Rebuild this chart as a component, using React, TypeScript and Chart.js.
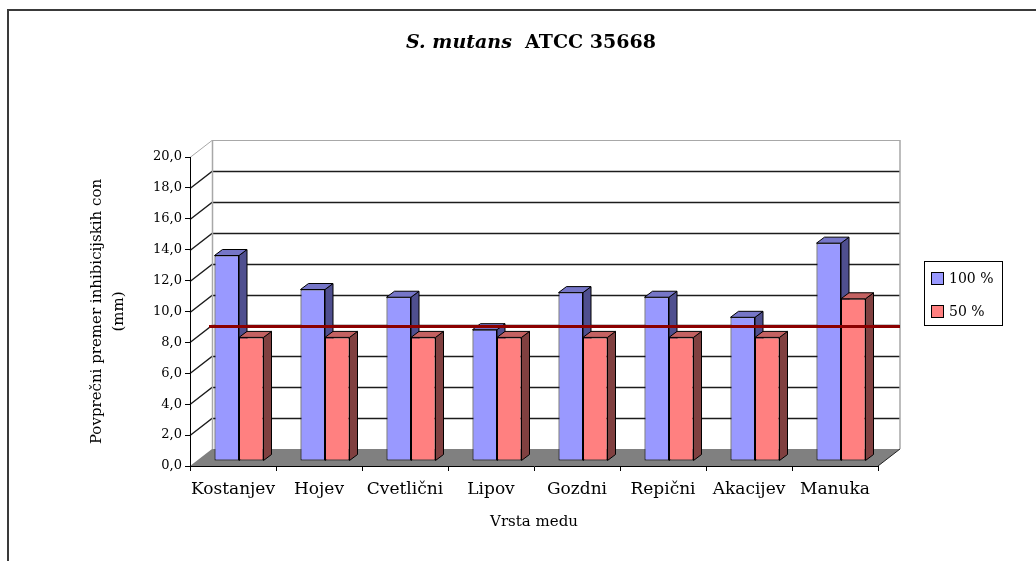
import React, { useEffect, useRef } from 'react';
import { Chart, registerables } from 'chart.js';

Chart.register(...registerables);

// Honey types and mean inhibition-zone diameters (mm)
const categories = ['Kostanjev', 'Hojev', 'Cvetlični', 'Lipov', 'Gozdni', 'Repični', 'Akacijev', 'Manuka'];
const seriesNames = ['100 %', '50 %'];
const conc100 = [13.3, 11.1, 10.6, 8.5, 10.9, 10.6, 9.3, 14.1];
const conc50 = [8.0, 8.0, 8.0, 8.0, 8.0, 8.0, 8.0, 10.5];
const referenceLevel = 8.7;

const yMin = 0;
const yMax = 20;
const yStep = 2;

const titleItalic = 'S. mutans';
const titleRest = 'ATCC 35668';
const xTitle = 'Vrsta medu';
const yTitle = ['Povprečni premer inhibicijskih con', '(mm)'];

const FONT = "'DejaVu Serif', 'Liberation Serif', serif";

const palette = [
  { front: '#9999FF', side: '#4F4F8F', top: '#7676C8' },
  { front: '#FF8080', side: '#804040', top: '#C46262' },
];

// depth of the walls/floor and of each column
const WALL_DX = 22;
const WALL_DY = -17;
const BAR_DX = 6;
const BAR_DY = -5;
const COL_DX = 8;
const COL_DY = -6;

function drawColumnFaces(ctx: CanvasRenderingContext2D, el: any, colors: { side: string; top: string }) {
  const { x, y, base, width } = el.getProps(['x', 'y', 'base', 'width'], true);
  const l = x - width / 2;
  const r = x + width / 2;
  // side face
  ctx.fillStyle = colors.side;
  ctx.beginPath();
  ctx.moveTo(r, y);
  ctx.lineTo(r + COL_DX, y + COL_DY);
  ctx.lineTo(r + COL_DX, base + COL_DY);
  ctx.lineTo(r, base);
  ctx.closePath();
  ctx.fill();
  ctx.stroke();
  // top face
  ctx.fillStyle = colors.top;
  ctx.beginPath();
  ctx.moveTo(l, y);
  ctx.lineTo(l + COL_DX, y + COL_DY);
  ctx.lineTo(r + COL_DX, y + COL_DY);
  ctx.lineTo(r, y);
  ctx.closePath();
  ctx.fill();
  ctx.stroke();
}

const depthPlugin = {
  id: 'depth3d',
  beforeDraw(chart: any) {
    const { ctx, chartArea: a, scales } = chart;
    const y = scales.y;
    ctx.save();
    // back wall and side wall gridlines
    for (const t of y.ticks) {
      if (t.value === yMin) continue;
      const py = Math.round(y.getPixelForValue(t.value)) + 0.5;
      const top = t.value === yMax;
      ctx.strokeStyle = top ? '#a8a8a8' : '#1c1c1c';
      ctx.lineWidth = top ? 1 : 1.4;
      ctx.beginPath();
      ctx.moveTo(a.left, py);
      ctx.lineTo(a.left + WALL_DX, py + WALL_DY);
      ctx.lineTo(a.right + WALL_DX, py + WALL_DY);
      ctx.stroke();
    }
    ctx.strokeStyle = '#a8a8a8';
    ctx.lineWidth = 1.5;
    ctx.beginPath();
    ctx.moveTo(a.left + WALL_DX + 0.5, a.top + WALL_DY);
    ctx.lineTo(a.left + WALL_DX + 0.5, a.bottom + WALL_DY);
    ctx.moveTo(a.right + WALL_DX, a.top + WALL_DY);
    ctx.lineTo(a.right + WALL_DX, a.bottom + WALL_DY);
    ctx.stroke();
    // floor
    ctx.fillStyle = '#808080';
    ctx.beginPath();
    ctx.moveTo(a.left, a.bottom);
    ctx.lineTo(a.right, a.bottom);
    ctx.lineTo(a.right + WALL_DX, a.bottom + WALL_DY);
    ctx.lineTo(a.left + WALL_DX, a.bottom + WALL_DY);
    ctx.closePath();
    ctx.fill();
    ctx.strokeStyle = '#222';
    ctx.lineWidth = 1;
    ctx.beginPath();
    ctx.moveTo(a.right, a.bottom);
    ctx.lineTo(a.right + WALL_DX, a.bottom + WALL_DY);
    ctx.stroke();
    ctx.restore();
  },
  beforeDatasetsDraw(chart: any) {
    const { ctx } = chart;
    ctx.save();
    ctx.translate(BAR_DX, BAR_DY);
    // side and top faces go underneath the front faces drawn by the bar elements
    ctx.save();
    ctx.strokeStyle = '#000';
    ctx.lineWidth = 1;
    ctx.lineJoin = 'round';
    const metas = chart.data.datasets.map((_: any, i: number) => chart.getDatasetMeta(i));
    for (let j = 0; j < categories.length; j++) {
      metas.forEach((meta: any, i: number) => {
        const el = meta.data[j];
        if (el) drawColumnFaces(ctx, el, palette[i]);
      });
    }
    ctx.restore();
  },
  afterDatasetsDraw(chart: any) {
    const { ctx, chartArea: a, scales } = chart;
    ctx.restore();
    const py = scales.y.getPixelForValue(referenceLevel) + BAR_DY;
    ctx.save();
    ctx.strokeStyle = '#8B0000';
    ctx.lineWidth = 3;
    ctx.beginPath();
    ctx.moveTo(a.left + WALL_DX - 3, py);
    ctx.lineTo(a.right + WALL_DX, py);
    ctx.stroke();
    ctx.restore();
  },
};

export default function App() {
  const canvasRef = useRef<HTMLCanvasElement | null>(null);

  useEffect(() => {
    const canvas = canvasRef.current;
    if (!canvas) return;
    const chart = new Chart(canvas, {
      type: 'bar',
      data: {
        labels: categories,
        datasets: [
          {
            label: seriesNames[0],
            data: conc100,
            backgroundColor: palette[0].front,
            borderColor: '#000',
            borderWidth: 1,
            borderSkipped: false,
            categoryPercentage: 0.57,
            barPercentage: 1,
          },
          {
            label: seriesNames[1],
            data: conc50,
            backgroundColor: palette[1].front,
            borderColor: '#000',
            borderWidth: 1,
            borderSkipped: false,
            categoryPercentage: 0.57,
            barPercentage: 1,
          },
        ],
      },
      options: {
        responsive: false,
        animation: false,
        events: [],
        layout: { padding: { left: 80, right: 158, top: 157, bottom: 15 } },
        plugins: {
          legend: { display: false },
          tooltip: { enabled: false },
          title: { display: false },
        },
        scales: {
          x: {
            offset: true,
            grid: { offset: true, drawOnChartArea: false, tickLength: 5, color: '#000' },
            border: { color: '#000', width: 1 },
            ticks: {
              color: '#000',
              font: { family: FONT, size: 17 },
              padding: 8,
              maxRotation: 0,
              autoSkip: false,
            },
            title: {
              display: true,
              text: xTitle,
              color: '#000',
              font: { family: FONT, size: 15 },
              padding: { top: 0, bottom: 15 },
            },
            afterFit: (s: any) => {
              s.height = 80;
            },
          },
          y: {
            min: yMin,
            max: yMax,
            grid: { drawOnChartArea: false, tickLength: 5, color: '#000' },
            border: { color: '#000', width: 1 },
            ticks: {
              stepSize: yStep,
              color: '#000',
              font: { family: FONT, size: 13 },
              padding: 3,
              callback: (v: any) => Number(v).toFixed(1).replace('.', ','),
            },
            title: {
              display: true,
              text: yTitle,
              color: '#000',
              font: { family: FONT, size: 15, lineHeight: '22px' },
              padding: { top: 6, bottom: 0 },
            },
            afterFit: (s: any) => {
              s.width = 110;
            },
          },
        },
      },
      plugins: [depthPlugin],
    });
    return () => chart.destroy();
  }, []);

  return (
    <div style={{ position: 'fixed', left: 0, top: 0, width: 1036, height: 561, background: '#fff', overflow: 'hidden' }}>
      <div
        style={{
          position: 'absolute',
          left: 7,
          top: 9,
          width: 1100,
          height: 700,
          borderTop: '2px solid #3a3a3a',
          borderLeft: '2px solid #3a3a3a',
        }}
      />
      <canvas ref={canvasRef} width={1036} height={561} style={{ position: 'absolute', left: 0, top: 0 }} />
      <div
        style={{
          position: 'absolute',
          left: 331,
          top: 30,
          width: 400,
          textAlign: 'center',
          fontFamily: FONT,
          fontWeight: 'bold',
          fontSize: 19,
          lineHeight: '22px',
          color: '#000',
          whiteSpace: 'pre',
        }}
      >
        <i>{titleItalic}</i>
        {'  ' + titleRest}
      </div>
      <div
        style={{
          position: 'absolute',
          left: 924,
          top: 261,
          width: 77,
          height: 63,
          border: '1px solid #000',
          fontFamily: FONT,
          fontSize: 14,
          color: '#000',
        }}
      >
        {seriesNames.map((name, i) => (
          <div
            key={name}
            style={{ position: 'absolute', left: 6, top: 9 + i * 33, height: 14, display: 'flex', alignItems: 'center' }}
          >
            <span
              style={{
                display: 'inline-block',
                width: 11,
                height: 11,
                background: palette[i].front,
                border: '1px solid #000',
                marginRight: 5,
              }}
            />
            <span style={{ lineHeight: '14px', whiteSpace: 'pre' }}>{name}</span>
          </div>
        ))}
      </div>
    </div>
  );
}
